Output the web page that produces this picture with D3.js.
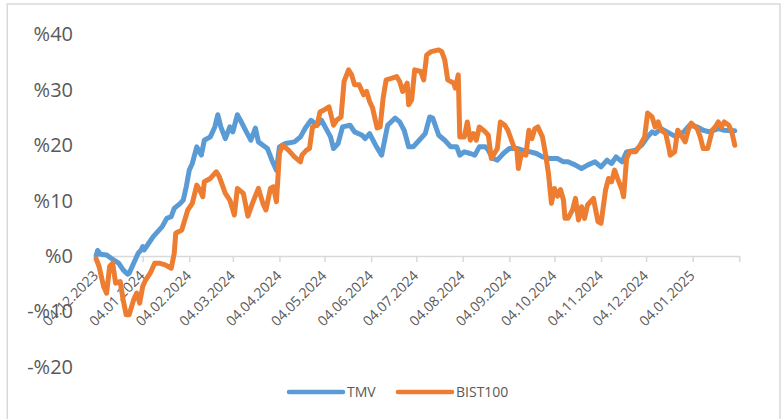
<!DOCTYPE html>
<html><head><meta charset="utf-8">
<script src="https://cdn.jsdelivr.net/npm/d3@7"></script>
<style>
body{margin:0;background:#fff}
svg{display:block}
text{font-family:"Open Sans",sans-serif;fill:#595959}
</style>
</head><body>
<svg id="c" width="781" height="419"></svg>
<script>
const tmvDates = ["2023-12-04","2023-12-05","2023-12-07","2023-12-11","2023-12-14","2023-12-19","2023-12-22","2023-12-25","2023-12-26","2023-12-29",
"2024-01-01","2024-01-03","2024-01-04","2024-01-05","2024-01-08","2024-01-11","2024-01-14","2024-01-17","2024-01-20","2024-01-23","2024-01-25","2024-01-29","2024-01-31",
"2024-02-02","2024-02-04","2024-02-06","2024-02-09","2024-02-12","2024-02-14","2024-02-18","2024-02-21","2024-02-23","2024-02-25","2024-02-28",
"2024-03-02","2024-03-04","2024-03-07","2024-03-10","2024-03-13","2024-03-16","2024-03-19","2024-03-21","2024-03-24","2024-03-27","2024-03-30",
"2024-04-02","2024-04-04","2024-04-08","2024-04-14","2024-04-18","2024-04-21","2024-04-25","2024-04-29",
"2024-05-02","2024-05-05","2024-05-08","2024-05-10","2024-05-13","2024-05-16","2024-05-21","2024-05-24","2024-05-29","2024-05-31",
"2024-06-03","2024-06-07","2024-06-11","2024-06-13","2024-06-15","2024-06-20","2024-06-23","2024-06-26","2024-06-29",
"2024-07-02","2024-07-06","2024-07-10","2024-07-13","2024-07-15","2024-07-19","2024-07-23","2024-07-27","2024-07-31",
"2024-08-02","2024-08-05","2024-08-09","2024-08-12","2024-08-15","2024-08-19","2024-08-21","2024-08-24","2024-08-27","2024-08-31",
"2024-09-04","2024-09-09","2024-09-13","2024-09-18","2024-09-22","2024-09-26",
"2024-10-01","2024-10-06","2024-10-10","2024-10-13","2024-10-18","2024-10-22","2024-10-26","2024-10-31",
"2024-11-04","2024-11-08","2024-11-11","2024-11-14","2024-11-18","2024-11-21","2024-11-27",
"2024-12-01","2024-12-05","2024-12-08","2024-12-10","2024-12-14","2024-12-20","2024-12-24","2024-12-29",
"2025-01-02","2025-01-07","2025-01-11","2025-01-15","2025-01-21","2025-01-25","2025-02-01"];
const tmvValues = [0.0,1.0,0.3,0.2,-0.4,-1.3,-2.5,-3.3,-3.1,-1.3,
0.5,1.1,1.7,1.1,2.3,3.5,4.4,5.3,6.8,7.1,8.6,9.5,10.1,
12.5,15.5,16.7,19.7,18.2,20.9,21.5,23.3,25.5,23.3,21.2,
23.3,22.4,25.5,24.0,22.4,20.9,23.1,20.6,20.0,19.4,17.3,
15.5,19.7,20.3,20.6,21.5,23.0,24.5,23.6,
24.5,23.0,21.5,19.4,20.3,23.3,23.6,22.4,21.8,21.2,
22.1,20.0,18.2,20.9,23.6,24.9,24.2,22.7,19.7,
19.7,20.9,22.1,25.1,24.9,21.8,20.9,19.7,19.7,
18.2,18.8,18.5,18.2,19.7,19.7,19.1,17.6,17.3,18.5,
19.4,19.4,19.1,18.8,18.5,17.9,
17.6,17.6,17.0,17.0,16.4,15.8,16.4,17.0,
16.1,17.3,16.7,17.9,17.0,18.8,19.1,
20.0,21.5,22.4,22.1,23.0,22.1,21.5,22.4,
23.6,23.3,22.7,22.4,23.0,22.7,22.6];

const bistDates = ["2023-12-04","2023-12-06","2023-12-09","2023-12-11","2023-12-13","2023-12-15","2023-12-17","2023-12-20","2023-12-22","2023-12-24","2023-12-26","2023-12-29","2023-12-31",
"2024-01-02","2024-01-04","2024-01-06","2024-01-09","2024-01-12","2024-01-15","2024-01-19","2024-01-23","2024-01-25","2024-01-26","2024-01-30",
"2024-02-01","2024-02-03","2024-02-06","2024-02-09","2024-02-11","2024-02-13","2024-02-14","2024-02-18","2024-02-22","2024-02-24","2024-02-28",
"2024-03-02","2024-03-05","2024-03-07","2024-03-11","2024-03-14","2024-03-17","2024-03-21","2024-03-24","2024-03-26","2024-03-29","2024-03-31",
"2024-04-02","2024-04-04","2024-04-06","2024-04-10","2024-04-14","2024-04-18","2024-04-19","2024-04-22","2024-04-24","2024-04-26","2024-04-29",
"2024-05-01","2024-05-04","2024-05-07","2024-05-10","2024-05-12","2024-05-15","2024-05-17","2024-05-20","2024-05-22","2024-05-24","2024-05-27","2024-05-30",
"2024-06-01","2024-06-03","2024-06-05","2024-06-08","2024-06-10","2024-06-12","2024-06-14","2024-06-18","2024-06-21","2024-06-23","2024-06-25","2024-06-28","2024-06-29",
"2024-07-01","2024-07-03","2024-07-07","2024-07-09","2024-07-11","2024-07-14","2024-07-19","2024-07-21","2024-07-23","2024-07-25","2024-07-29","2024-07-30",
"2024-08-01","2024-08-02","2024-08-05","2024-08-07","2024-08-09","2024-08-11","2024-08-13","2024-08-15","2024-08-19","2024-08-21","2024-08-23","2024-08-27","2024-08-29",
"2024-09-01","2024-09-03","2024-09-07","2024-09-09","2024-09-10","2024-09-12","2024-09-15","2024-09-17","2024-09-19","2024-09-21","2024-09-23","2024-09-26","2024-09-28","2024-09-30",
"2024-10-02","2024-10-04","2024-10-06","2024-10-08","2024-10-10","2024-10-11","2024-10-13","2024-10-16","2024-10-18","2024-10-20","2024-10-22","2024-10-24","2024-10-26","2024-10-30","2024-10-31",
"2024-11-02","2024-11-04","2024-11-07","2024-11-09","2024-11-11","2024-11-13","2024-11-15","2024-11-18","2024-11-19","2024-11-21","2024-11-23","2024-11-27","2024-11-30",
"2024-12-03","2024-12-05","2024-12-08","2024-12-10","2024-12-12","2024-12-14","2024-12-17","2024-12-19","2024-12-20","2024-12-23","2024-12-25","2024-12-28","2024-12-30",
"2025-01-01","2025-01-03","2025-01-07","2025-01-09","2025-01-11","2025-01-14","2025-01-17","2025-01-19","2025-01-21","2025-01-23","2025-01-25","2025-01-28","2025-01-30","2025-02-01"];
const bistValues = [-0.5,-1.9,-5.5,-6.7,-1.9,-1.3,-4.9,-4.6,-7.9,-10.6,-10.6,-7.9,-6.7,
-8.5,-5.5,-4.3,-3.1,-1.3,-1.3,-1.6,-2.2,0.5,4.1,4.7,
6.5,8.3,9.5,12.8,11.9,10.7,13.4,14.0,15.2,14.3,11.3,
10.1,7.4,12.2,11.3,7.2,9.5,12.2,9.5,8.3,12.2,12.5,
9.8,18.5,20.0,19.1,17.9,17.0,18.2,19.1,19.4,23.3,23.6,
26.0,26.4,26.9,23.6,24.5,25.1,31.5,33.6,32.7,30.9,30.9,29.1,
29.7,27.9,26.7,23.1,23.3,28.5,31.8,32.1,32.4,31.5,29.7,31.2,27.3,
28.2,33.6,33.3,31.8,36.3,36.9,37.2,36.9,35.4,31.8,31.2,30.3,
32.7,21.5,21.5,24.2,20.9,22.1,20.9,23.3,22.4,21.8,17.6,19.4,24.2,
23.6,22.7,19.7,19.1,15.8,18.5,18.2,22.7,21.2,23.0,23.3,21.5,18.5,14.9,
9.5,12.2,10.8,12.0,10.1,6.8,6.8,8.3,10.4,6.5,8.9,6.8,9.2,10.4,8.9,
6.2,5.9,11.9,14.0,13.4,15.5,14.0,11.9,10.7,17.6,18.8,18.8,20.0,
21.5,25.8,25.1,23.3,24.2,22.7,22.1,19.7,18.2,18.8,22.7,21.5,20.6,
22.7,24.0,23.0,21.5,19.4,19.4,22.7,23.3,24.2,23.3,24.2,23.6,22.4,20.0];

const seriesNames = ["TMV","BIST100"];
const seriesColors = ["#5B9BD5","#ED7D31"];
const yTickValues = [40,30,20,10,0,-10,-20];
const yTickLabels = ["%40","%30","%20","%10","%0","-%10","-%20"];
const xTickDates = ["2023-12-04","2024-01-04","2024-02-04","2024-03-04","2024-04-04","2024-05-04","2024-06-04","2024-07-04","2024-08-04","2024-09-04","2024-10-04","2024-11-04","2024-12-04","2025-01-04","2025-02-04"];
const xTickLabels = ["04.12.2023","04.01.2024","04.02.2024","04.03.2024","04.04.2024","04.05.2024","04.06.2024","04.07.2024","04.08.2024","04.09.2024","04.10.2024","04.11.2024","04.12.2024","04.01.2025",""];

const parse = d3.utcParse("%Y-%m-%d");
const svg = d3.select("#c");

svg.append("rect").attr("x",7.3).attr("y",4).attr("width",772.7).attr("height",440)
  .attr("fill","none").attr("stroke","#d9d9d9").attr("stroke-width",1.5);

const x = d3.scaleUtc().domain([parse("2023-12-04"), parse("2025-02-04")]).range([96.1, 739.3]);
const y = d3.scaleLinear().domain([-20, 40]).range([366.8, 34.4]);

// y axis labels
const yAxis = d3.axisLeft(y).tickValues(yTickValues).tickSize(0).tickPadding(0)
  .tickFormat(d=>yTickLabels[yTickValues.indexOf(d)]);
const gy = svg.append("g").attr("transform","translate(73,0)").call(yAxis);
gy.select(".domain").remove();
gy.selectAll("text").attr("font-size",20).attr("font-family",null).style("fill","#595959");

// x axis
const xAxis = d3.axisBottom(x).tickValues(xTickDates.map(parse)).tickSize(6).tickSizeOuter(0)
  .tickFormat((d,i)=>xTickLabels[i]);
const gx = svg.append("g").attr("transform",`translate(0,${y(0)})`).call(xAxis);
gx.select(".domain").attr("stroke","#d9d9d9").attr("stroke-width",1.5);
gx.selectAll(".tick line").attr("stroke","#d9d9d9").attr("stroke-width",1.5);
gx.selectAll(".tick text").attr("font-size",14).attr("font-family",null).style("fill","#595959")
  .attr("y",0).attr("dy","0.35em").attr("text-anchor","end")
  .attr("transform","translate(-1,17) rotate(-45)");

// lines
const line = d3.line().x(d=>x(d.date)).y(d=>y(d.v));
const tmv = tmvDates.map((d,i)=>({date:parse(d), v:tmvValues[i]}));
const bist = bistDates.map((d,i)=>({date:parse(d), v:bistValues[i]}));
[tmv,bist].forEach((data,k)=>{
  svg.append("path").datum(data).attr("d",line).attr("fill","none")
    .attr("stroke",seriesColors[k]).attr("stroke-width",5)
    .attr("stroke-linejoin","round").attr("stroke-linecap","round");
});

// legend
const legendX = [289, 398];
seriesNames.forEach((n,k)=>{
  svg.append("line").attr("x1",legendX[k]).attr("x2",legendX[k]+54).attr("y1",392).attr("y2",392)
    .attr("stroke",seriesColors[k]).attr("stroke-width",4.5).attr("stroke-linecap","round");
  svg.append("text").attr("x",legendX[k]+58).attr("y",392).attr("dy","0.35em")
    .attr("font-size",14).text(n);
});
</script>
</body></html>
